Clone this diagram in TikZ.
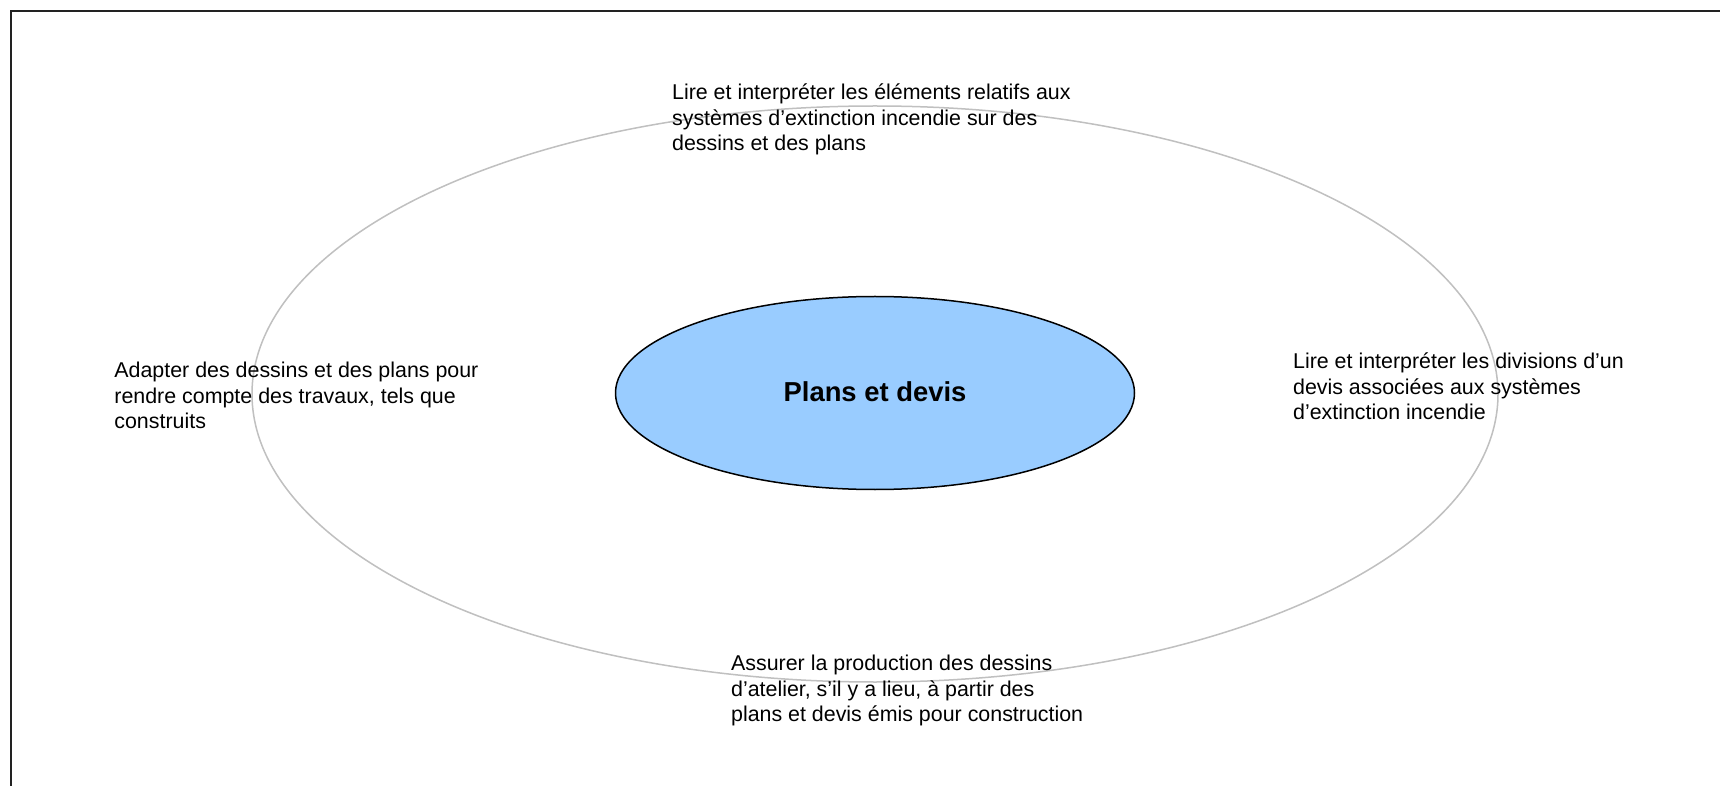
\documentclass[tikz,border=0pt]{standalone}
\usepackage{fontspec}
\setmainfont{Liberation Sans}
\usetikzlibrary{shapes.geometric}
\definecolor{ringgray}{HTML}{C0C0C0}
\definecolor{hubblue}{HTML}{99CCFF}
\definecolor{framecol}{HTML}{222222}
\begin{document}
\begin{tikzpicture}[x=0.5pt,y=-0.5pt,
  ringstyle/.style={ellipse,draw=ringgray,line width=0.75pt,inner sep=0pt,
    minimum width=623pt,minimum height=288pt},
  hubstyle/.style={ellipse,draw=black,line width=0.75pt,fill=hubblue,inner sep=0pt,
    minimum width=259.5pt,minimum height=96.5pt},
  hubtext/.style={font=\fontsize{13.7pt}{15pt}\selectfont\bfseries,inner sep=0pt,anchor=base},
  itemtext/.style={font=\fontsize{10.7pt}{12.75pt}\selectfont,align=left,inner sep=0pt,anchor=base west}]
\useasboundingbox (0,0) rectangle (1720,786);
\fill[white] (0,0) rectangle (1720,786);
\draw[framecol,line width=1pt] (10.7,790) -- (10.7,11.3) -- (1725,11.3);
\node[ringstyle] (ring) at (875,394) {};
\node[hubstyle] (hub) at (875,393) {};
\node[hubtext] (hublabel) at (875,401.5) {Plans et devis};
\node[itemtext] (top) at (671.7,150.7) {Lire et interpréter les éléments relatifs aux\\systèmes d’extinction incendie sur des\\dessins et des plans};
\node[itemtext] (right) at (1292.7,420) {Lire et interpréter les divisions d’un\\devis associées aux systèmes\\d’extinction incendie};
\node[itemtext] (left) at (114,429) {Adapter des dessins et des plans pour\\rendre compte des travaux, tels que\\construits};
\node[itemtext] (bottom) at (730.7,721.7) {Assurer la production des dessins\\d’atelier, s’il y a lieu, à partir des\\plans et devis émis pour construction};
\end{tikzpicture}
\end{document}
